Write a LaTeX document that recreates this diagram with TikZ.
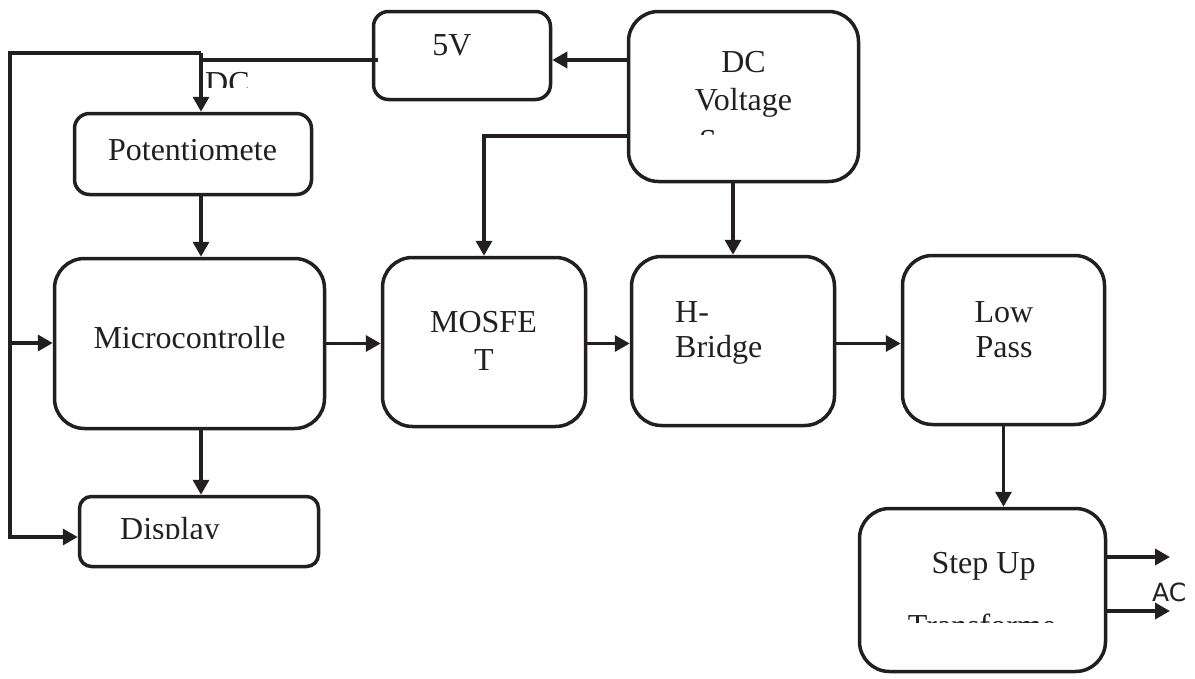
\documentclass[tikz,border=0pt]{standalone}
\usepackage{fontspec}
\setmainfont{Liberation Serif}
\newfontfamily\sansac{DejaVu Sans}
\usepackage{tikz}
\usetikzlibrary{arrows.meta}
\definecolor{ctinta}{HTML}{231F20}
\tikzset{
  bloque/.style={rectangle, rounded corners=30pt, draw=ctinta, line width=3.5pt, inner sep=0pt},
  bloquec/.style={bloque, rounded corners=15pt},
  flecha/.style={-{Triangle[length=15pt, width=16pt]}, line width=3.5pt, draw=ctinta},
  linea/.style={line width=3.5pt, draw=ctinta},
  etq/.style={font=\fontsize{32pt}{38pt}\selectfont, text=ctinta, inner sep=0pt, anchor=base},
}
\begin{document}
\begin{tikzpicture}[x=1pt, y=-1pt]
  \useasboundingbox (0,0) rectangle (1195,678);
  \node[bloquec, minimum width=177pt, minimum height=88pt] (cinco) at (462,55.5) {};
  \node[bloque, minimum width=230pt, minimum height=170pt] (fuente) at (743.5,96.5) {};
  \node[bloquec, minimum width=237pt, minimum height=81pt] (poten) at (193,154) {};
  \node[bloque, minimum width=270pt, minimum height=170pt] (micro) at (189.5,343.5) {};
  \node[bloque, minimum width=203pt, minimum height=169pt] (mosfet) at (484,342) {};
  \node[bloque, minimum width=203pt, minimum height=169pt] (puente) at (733,341) {};
  \node[bloque, minimum width=202pt, minimum height=169pt] (filtro) at (1003.5,340) {};
  \node[bloquec, rounded corners=12pt, minimum width=239pt, minimum height=70pt] (pantalla) at (199,531.5) {};
  \node[bloque, minimum width=246pt, minimum height=163pt] (trafo) at (982.5,590) {};

  \node[etq] (t5v) at (452,55) {5V};
  \node[etq] (tdc) at (743.5,72) {DC};
  \node[etq] (tvolt) at (743.5,110) {Voltage};
  \begin{scope}
    \clip (630,112) rectangle (857,134);
    \node[etq] (tsrc) at (743.5,151) {Source};
  \end{scope}
  \node[etq] (tpot) at (192.5,160) {Potentiomete};
  \node[etq] (tmicro) at (189.5,348) {Microcontrolle};
  \node[etq] (tmos) at (483.5,332) {MOSFE};
  \node[etq] (tmost) at (484,370) {T};
  \node[etq, anchor=base west] (th) at (675,322) {H-};
  \node[etq, anchor=base west] (tbridge) at (675,357) {Bridge};
  \node[etq] (tlow) at (1004,322) {Low};
  \node[etq] (tpass) at (1004,357) {Pass};
  \begin{scope}
    \clip (100,505) rectangle (300,538);
    \node[etq, anchor=base west] (tdisp) at (120,539) {Display};
  \end{scope}
  \node[etq] (tstep) at (983.5,573) {Step Up};
  \begin{scope}
    \clip (880,600) rectangle (1090,622);
    \node[etq] (ttrafo) at (982,636) {Transforme};
  \end{scope}
  \begin{scope}
    \clip (204,65) rectangle (260,87);
    \node[etq, anchor=base west] (tdcin) at (205,93) {DC};
  \end{scope}
  \node[etq, font=\sansac\fontsize{25pt}{29pt}\selectfont, anchor=base west] (tac) at (1152,601) {AC};

  \coordinate (esq) at (10,53);
  \coordinate (bajo) at (10,537);
  \coordinate (rama) at (10,343);
  \coordinate (eje) at (201,0);
  \coordinate (sal1) at (1170,557);
  \coordinate (sal2) at (1170,611);
  \draw[flecha] (fuente.west |- 0,60) -- (cinco.east |- 0,60);
  \draw[linea] (eje |- 0,60) -- (cinco.west |- 0,60) -- ++(6,0);
  \draw[flecha] (esq -| eje) -- (poten.north -| eje);
  \draw[flecha] (esq -| eje) -- (esq) -- (bajo) -- (pantalla.west |- bajo);
  \draw[flecha] (rama) -- (micro.west |- rama);
  \draw[flecha] (fuente.west |- 0,136) -| (mosfet.north);
  \draw[flecha] (fuente.south -| puente.north) -- (puente.north);
  \draw[flecha] (poten.south -| eje) -- (micro.north -| eje);
  \draw[flecha] (micro.south -| eje) -- (pantalla.north -| eje);
  \draw[flecha] (micro.east) -- (mosfet.west |- micro.east);
  \draw[flecha] (mosfet.east |- micro.east) -- (puente.west |- micro.east);
  \draw[flecha] (puente.east |- micro.east) -- (filtro.west |- micro.east);
  \draw[flecha] (filtro.south) -- (trafo.north -| filtro.south);
  \draw[flecha] (trafo.east |- sal1) -- (sal1);
  \draw[flecha] (trafo.east |- sal2) -- (sal2);
\end{tikzpicture}
\end{document}
